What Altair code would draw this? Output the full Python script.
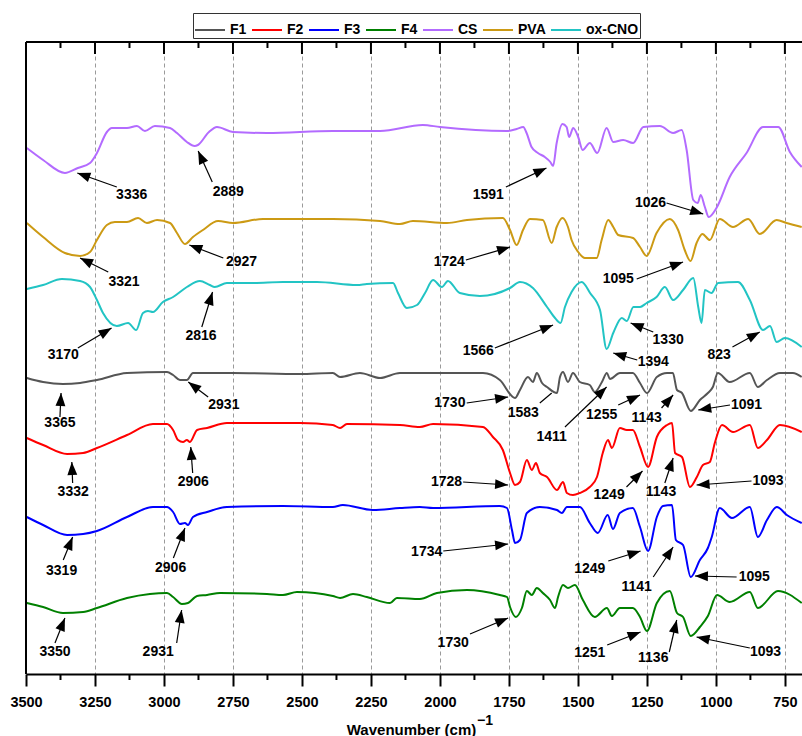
import math
import altair as alt
import pandas as pd

# ---------------------------------------------------------------
# FTIR spectra (vertically offset transmittance, arbitrary units)
# ---------------------------------------------------------------
CS_WN = [3497, 3438, 3359, 3312, 3268, 3243, 3207, 3189, 3134, 3098, 3069, 3033, 2978, 2953, 2917,
         2889, 2877, 2837, 2808, 2750, 2627, 2388, 2217, 2062, 2000, 1758, 1722, 1698, 1686, 1668,
         1645, 1620, 1600, 1590, 1577, 1556, 1541, 1532, 1517, 1499, 1483, 1457, 1430, 1396, 1372,
         1336, 1300, 1263, 1203, 1155, 1124, 1106, 1082, 1066, 1055, 1040, 1026, 998, 950, 889,
         829, 774, 732, 689]
CS_T = [526, 514, 501, 506, 511, 521, 542, 546, 546, 548, 543, 548, 546, 541, 532,
        528, 529, 542, 547, 542, 541, 543, 543, 549, 547, 543, 545, 547, 541, 527,
        521, 517, 512, 508, 531, 550, 547, 537, 546, 537, 524, 531, 521, 546, 532,
        534, 531, 547, 548, 541, 544, 524, 474, 471, 479, 467, 457, 466, 497, 521,
        547, 547, 522, 507]

PVA_WN = [3497, 3438, 3359, 3304, 3268, 3243, 3207, 3178, 3134, 3094, 3062, 3025, 2978, 2953, 2924,
          2895, 2859, 2804, 2750, 2641, 2388, 2217, 2145, 2098, 1975, 1902, 1772, 1746, 1722, 1699,
          1674, 1627, 1595, 1577, 1556, 1536, 1523, 1499, 1475, 1432, 1414, 1390, 1372, 1354, 1300,
          1275, 1251, 1215, 1167, 1137, 1113, 1092, 1070, 1049, 1022, 986, 938, 883, 841, 780,
          744, 689]
PVA_T = [451, 437, 421, 418, 422, 434, 449, 452, 452, 456, 451, 454, 451, 441, 430,
         437, 444, 453, 451, 455, 455, 453, 450, 453, 451, 454, 456, 444, 429, 444,
         455, 454, 431, 447, 456, 447, 434, 422, 416, 416, 434, 454, 447, 439, 436,
         427, 418, 441, 455, 444, 424, 413, 431, 440, 434, 455, 447, 455, 440, 454,
         451, 447]

CNO_WN = [3497, 3438, 3370, 3304, 3268, 3243, 3221, 3171, 3130, 3101, 3076, 3058, 3040, 3004, 2967,
          2917, 2870, 2834, 2816, 2772, 2678, 2569, 2446, 2301, 2265, 2170, 2152, 2120, 2083, 2054,
          2025, 1993, 1971, 1928, 1855, 1746, 1710, 1663, 1612, 1583, 1563, 1547, 1523, 1486, 1456,
          1420, 1396, 1372, 1341, 1323, 1299, 1275, 1251, 1215, 1185, 1155, 1119, 1082, 1064, 1052,
          1040, 1016, 992, 920, 877, 829, 804, 780, 750, 689]
CNO_T = [385, 389, 395, 393, 387, 374, 361, 348, 351, 344, 361, 363, 362, 372, 377,
         387, 393, 389, 387, 391, 391, 392, 392, 389, 390, 391, 381, 366, 369, 381,
         394, 387, 393, 381, 378, 386, 392, 386, 367, 356, 351, 367, 382, 392, 381,
         364, 325, 341, 356, 353, 367, 367, 371, 377, 387, 374, 384, 396, 367, 351,
         384, 381, 391, 392, 374, 344, 348, 332, 336, 327]

F1_WN = [3497, 3438, 3366, 3304, 3243, 3134, 2989, 2967, 2942, 2917, 2895, 2750, 2507, 2388, 2362,
         2290, 2217, 2145, 2073, 1844, 1783, 1728, 1710, 1681, 1663, 1649, 1630, 1612, 1576, 1565,
         1554, 1536, 1518, 1493, 1457, 1439, 1413, 1395, 1384, 1348, 1301, 1275, 1250, 1214, 1177,
         1156, 1141, 1123, 1091, 1058, 1029, 1011, 993, 950, 877, 848, 815, 768, 721, 689]
F1_T = [296, 292, 290, 291, 294, 301, 302, 299, 294, 294, 301, 301, 300, 301, 297,
        301, 296, 301, 301, 301, 294, 276, 284, 297, 292, 301, 291, 287, 281, 297,
        302, 292, 301, 292, 289, 282, 292, 301, 295, 301, 301, 291, 281, 297, 301,
        301, 284, 281, 263, 274, 281, 287, 301, 292, 301, 287, 294, 301, 301, 297]

F2_WN = [3497, 3438, 3351, 3293, 3243, 3134, 3040, 2989, 2967, 2949, 2931, 2917, 2906, 2880, 2844,
         2772, 2507, 2388, 2362, 2337, 2145, 2073, 2025, 1844, 1808, 1772, 1746, 1728, 1710, 1685,
         1667, 1652, 1638, 1612, 1576, 1554, 1540, 1518, 1493, 1457, 1431, 1410, 1391, 1377, 1348,
         1323, 1301, 1275, 1246, 1214, 1177, 1159, 1148, 1123, 1094, 1069, 1047, 1022, 1004, 978,
         938, 877, 848, 815, 768, 689]
F2_T = [236, 229, 220, 221, 226, 239, 250, 250, 244, 234, 232, 234, 232, 244, 246,
        251, 251, 249, 246, 250, 249, 247, 250, 247, 237, 224, 201, 189, 192, 214,
        204, 211, 201, 197, 184, 192, 181, 179, 181, 187, 197, 221, 234, 226, 246,
        244, 244, 227, 207, 237, 249, 251, 221, 217, 187, 197, 209, 212, 231, 249,
        242, 249, 226, 234, 249, 242]

F3_WN = [3497, 3438, 3351, 3293, 3243, 3134, 3040, 2989, 2967, 2942, 2924, 2913, 2895, 2844, 2772,
         2569, 2388, 2352, 2243, 2145, 2073, 2025, 1783, 1757, 1739, 1728, 1710, 1685, 1638, 1576,
         1558, 1540, 1493, 1457, 1428, 1392, 1373, 1348, 1301, 1275, 1246, 1214, 1192, 1159, 1145,
         1119, 1091, 1058, 1029, 1015, 986, 942, 877, 848, 815, 779, 743, 689]
F3_T = [157, 149, 139, 140, 143, 157, 167, 167, 162, 150, 151, 149, 157, 162, 167,
        168, 167, 169, 164, 166, 167, 166, 168, 166, 144, 131, 134, 161, 167, 164,
        161, 167, 167, 151, 141, 159, 145, 161, 166, 147, 123, 157, 168, 169, 134,
        129, 97, 114, 126, 137, 166, 156, 167, 137, 154, 167, 159, 151]

F4_WN = [3497, 3438, 3366, 3293, 3243, 3134, 3051, 2989, 2967, 2935, 2913, 2880, 2844, 2797, 2627,
         2569, 2518, 2388, 2362, 2315, 2265, 2181, 2156, 2073, 2011, 1902, 1783, 1757, 1746, 1725,
         1703, 1685, 1667, 1649, 1627, 1601, 1583, 1572, 1554, 1536, 1511, 1482, 1439, 1395, 1377,
         1348, 1301, 1275, 1250, 1214, 1167, 1141, 1119, 1091, 1058, 1029, 996, 950, 877, 848,
         775, 689]
F4_T = [71, 67, 61, 62, 66, 76, 80, 81, 77, 70, 71, 78, 79, 81, 80,
        79, 82, 78, 76, 80, 77, 71, 76, 75, 81, 84, 79, 77, 67, 57,
        66, 83, 79, 86, 81, 74, 66, 77, 89, 86, 89, 74, 57, 66, 58,
        66, 66, 57, 43, 71, 83, 61, 57, 38, 47, 58, 79, 72, 82, 66,
        83, 71]

SERIES = ["F1", "F2", "F3", "F4", "CS", "PVA", "ox-CNO"]
COLORS = ["#555555", "#ff0000", "#0000ff", "#008000", "#b36bff", "#cc9a14", "#22c4c4"]
SPECTRA = {
    "F1": (F1_WN, F1_T), "F2": (F2_WN, F2_T), "F3": (F3_WN, F3_T), "F4": (F4_WN, F4_T),
    "CS": (CS_WN, CS_T), "PVA": (PVA_WN, PVA_T), "ox-CNO": (CNO_WN, CNO_T),
}

# Peak annotations: label, label position, arrow tail, arrow tip, arrowhead shown
PEAK_LABEL = ["3336", "2889", "1591", "1026",
              "3321", "2927", "1724", "1095",
              "3170", "2816", "1566", "1394", "1330", "823",
              "3365", "2931", "1730", "1583", "1411", "1255", "1143", "1091",
              "3332", "2906", "1728", "1249", "1143", "1093",
              "3319", "2906", "1734", "1249", "1141", "1095",
              "3350", "2931", "1730", "1251", "1136", "1093"]
LABEL_WN = [3117, 2767, 1825, 1237,
            3145, 2719, 1966, 1354,
            3365, 2866, 1861, 1227, 1173, 988,
            3377, 2783, 1964, 1698, 1595, 1414, 1251, 889,
            3329, 2894, 1976, 1387, 1199, 811,
            3371, 2976, 2048, 1457, 1287, 861,
            3395, 3021, 1952, 1457, 1227, 820]
LABEL_T = [479, 482, 479, 471,
           392, 412, 412, 395,
           319, 338, 323, 312, 334, 319,
           251, 269, 271, 261, 237, 259, 256, 269,
           182, 192, 192, 179, 182, 193,
           103, 106, 122, 105, 87, 97,
           22, 22, 31, 21, 16, 22]
TAIL_WN = [3171, 2825, 1761, 1179,
           3202, 2785, 1906, 1287,
           3312, 2863, 1801, 1285, 1227, 940,
           3377, 2840, 1903, 1638, 1547, 1354, 1197, 949,
           3331, 2896, 1916, 1324, 1185, 871,
           3365, 2966, 1988, 1390, 1227, 925,
           3395, 2954, 1891, 1394, 1169, 877]
TAIL_T = [487, 492, 487, 471,
          402, 416, 414, 395,
          326, 347, 326, 314, 342, 327,
          257, 277, 271, 271, 247, 269, 266, 269,
          191, 201, 192, 187, 191, 193,
          114, 116, 123, 113, 97, 97,
          31, 31, 40, 29, 22, 26]
TIP_WN = [3314, 2876, 1614, 1046,
          3304, 2908, 1746, 1119,
          3190, 2824, 1590, 1372, 1309, 841,
          3373, 2912, 1753, 1595, 1396, 1275, 1155, 1064,
          3334, 2903, 1753, 1266, 1155, 1070,
          3331, 2924, 1753, 1273, 1155, 1076,
          3359, 2936, 1753, 1273, 1142, 1070]
TIP_T = [501, 523, 506, 460,
         416, 429, 427, 412,
         346, 382, 349, 321, 351, 342,
         281, 292, 277, 281, 287, 279, 279, 264,
         212, 227, 189, 203, 216, 189,
         137, 146, 130, 123, 127, 98,
         56, 64, 56, 42, 54, 37]
HAS_HEAD = [True] * len(PEAK_LABEL)
HAS_HEAD[PEAK_LABEL.index("1583")] = False

MAJOR_TICKS = [3500, 3250, 3000, 2750, 2500, 2250, 2000, 1750, 1500, 1250, 1000, 750]
MINOR_TICKS = [3375, 3125, 2875, 2625, 2375, 2125, 1875, 1625, 1375, 1125, 875]

WN_MAX, WN_MIN = 3500, 688
T_MAX = 632
W, H = 776, 632
FONT = "Liberation Sans, Arial, sans-serif"

rows = []
for name in SERIES:
    wn, t = SPECTRA[name]
    for a, b in zip(wn, t):
        rows.append({"series": name, "wn": a, "t": b})
spec_df = pd.DataFrame(rows)

ann_df = pd.DataFrame({
    "label": PEAK_LABEL, "lx": LABEL_WN, "ly": LABEL_T,
    "tx": TAIL_WN, "ty": TAIL_T, "hx": TIP_WN, "hy": TIP_T, "head": HAS_HEAD,
})
# screen-space direction of each arrow (for rotating its head)
kx = W / (WN_MAX - WN_MIN)
ky = H / T_MAX
ann_df["angle"] = [
    math.degrees(math.atan2((tx - hx) * kx, (hy - ty) * ky)) % 360
    for tx, ty, hx, hy in zip(ann_df.tx, ann_df.ty, ann_df.hx, ann_df.hy)
]
head_df = ann_df[ann_df["head"]].reset_index(drop=True)

xscale = alt.Scale(domain=[WN_MAX, WN_MIN], nice=False, zero=False)
yscale = alt.Scale(domain=[0, T_MAX], nice=False, zero=False)

lines = alt.Chart(spec_df).mark_line(strokeWidth=2, interpolate="monotone", clip=True).encode(
    x=alt.X("wn:Q", scale=xscale,
            axis=alt.Axis(values=MAJOR_TICKS, title="Wavenumber (cm)", format="d",
                          grid=True, gridDash=[4, 3], gridColor="#9a9a9a", gridWidth=1,
                          domainColor="black", domainWidth=2, tickColor="black", tickWidth=2,
                          tickSize=12, labelFont=FONT, labelFontSize=14.5, labelFontWeight="bold",
                          labelColor="black", labelPadding=9, labelFlush=False, labelOverlap=False,
                          titleFont=FONT, titleFontSize=15, titleFontWeight="bold", titleColor="black",
                          titleX=385, titleY=60, titleAlign="center", titleBaseline="alphabetic")),
    y=alt.Y("t:Q", scale=yscale, axis=None),
    color=alt.Color("series:N", scale=alt.Scale(domain=SERIES, range=COLORS),
                    legend=alt.Legend(orient="none", legendX=167, legendY=-29, direction="horizontal",
                                      columns=7, title=None, symbolType="stroke", symbolSize=900,
                                      symbolStrokeWidth=2, labelFont=FONT, labelFontSize=14,
                                      labelFontWeight="bold", labelColor="black", labelOffset=4,
                                      columnPadding=1, padding=1, rowPadding=0,
                                      strokeColor="#333333", fillColor="white")),
    order="wn:Q",
)

arrows = alt.Chart(ann_df).mark_rule(color="black", strokeWidth=1.2).encode(
    x=alt.X("tx:Q", scale=xscale, axis=None), y=alt.Y("ty:Q", scale=yscale, axis=None),
    x2="hx:Q", y2="hy:Q",
)

heads = alt.Chart(head_df).mark_point(
    shape="M0,0L0.38,1L-0.38,1Z", filled=True, size=676, color="black", opacity=1, strokeWidth=0
).encode(
    x=alt.X("hx:Q", scale=xscale, axis=None), y=alt.Y("hy:Q", scale=yscale, axis=None),
    angle=alt.Angle("angle:Q", scale=None),
)

labels = alt.Chart(ann_df).mark_text(
    font=FONT, fontSize=14, fontWeight="bold", color="black", baseline="middle", align="center"
).encode(
    x=alt.X("lx:Q", scale=xscale, axis=None), y=alt.Y("ly:Q", scale=yscale, axis=None),
    text="label:N",
)

one = pd.DataFrame({"k": [0]})

# frame: top and left borders
top_border = alt.Chart(one).mark_rule(color="black", strokeWidth=2).encode(
    x=alt.value(0), x2=alt.value(W), y=alt.value(0))
left_border = alt.Chart(one).mark_rule(color="black", strokeWidth=2).encode(
    x=alt.value(0), y=alt.value(0), y2=alt.value(H))

major_df = pd.DataFrame({"wn": MAJOR_TICKS})
minor_df = pd.DataFrame({"wn": MINOR_TICKS})
top_major = alt.Chart(major_df).mark_rule(color="black", strokeWidth=2).encode(
    x=alt.X("wn:Q", scale=xscale, axis=None), y=alt.value(0), y2=alt.value(12))
top_minor = alt.Chart(minor_df).mark_rule(color="black", strokeWidth=2).encode(
    x=alt.X("wn:Q", scale=xscale, axis=None), y=alt.value(0), y2=alt.value(6))
bottom_minor = alt.Chart(minor_df).mark_rule(color="black", strokeWidth=2).encode(
    x=alt.X("wn:Q", scale=xscale, axis=None), y=alt.value(H), y2=alt.value(H + 6))

sup = alt.Chart(pd.DataFrame({"s": ["\u22121"]})).mark_text(
    font=FONT, fontSize=14, fontWeight="bold", color="black", align="center", baseline="alphabetic"
).encode(x=alt.value(459), y=alt.value(683), text="s:N")

chart = alt.layer(lines, arrows, heads, labels, top_border, left_border,
                  top_major, top_minor, bottom_minor, sup).resolve_axis(
    x="independent", y="independent"
).properties(
    width=W, height=H,
    autosize=alt.AutoSizeParams(type="none"),
    padding={"left": 26, "top": 42, "right": 0, "bottom": 62},
    background="white",
).configure_view(stroke=None)

chart.save("out.html", embed_options={"renderer": "svg", "actions": False})
